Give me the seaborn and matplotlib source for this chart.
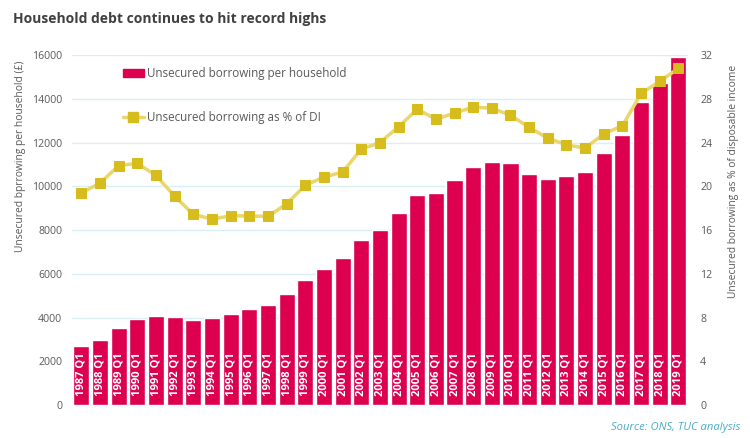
import numpy as np
import pandas as pd
import seaborn as sns
import matplotlib.pyplot as plt
from matplotlib.lines import Line2D
from matplotlib.patches import Patch

years = list(range(1987, 2020))
quarters = [f"{y} Q1" for y in years]
borrowing_per_household = [2680, 2990, 3500, 3915, 4070, 4010, 3870, 3990, 4160, 4400,
                           4590, 5090, 5700, 6215, 6705, 7570, 8020, 8765, 9600, 9680,
                           10270, 10865, 11095, 11065, 10545, 10320, 10455, 10650, 11505,
                           12345, 13850, 14735, 15895]
borrowing_pct_di = [19.4, 20.3, 21.9, 22.1, 21.0, 19.1, 17.45, 17.0, 17.3, 17.3,
                    17.25, 18.4, 20.1, 20.85, 21.3, 23.4, 24.0, 25.45, 27.05, 26.15,
                    26.7, 27.25, 27.15, 26.5, 25.4, 24.4, 23.8, 23.5, 24.8,
                    25.55, 28.5, 29.6, 30.8]

df = pd.DataFrame({"quarter": quarters,
                   "per_household": borrowing_per_household,
                   "pct_di": borrowing_pct_di})

BAR = "#dc004e"
LINE = "#ead66a"
MARK = "#d6bc1c"
GRID = "#d9eff3"
TXT = "#595959"

sns.set_style("white")
plt.rcParams['font.family'] = ['Open Sans', 'DejaVu Sans']

fig = plt.figure(figsize=(7.5, 4.38), dpi=100)
ax = fig.add_axes([0.096, 0.0753, 0.821, 0.7987])

sns.barplot(data=df, x="quarter", y="per_household", color=BAR, width=0.86,
            saturation=1, ax=ax, zorder=2)
ax.set_xlim(-0.5, len(quarters) - 0.5)
ax.set_ylim(0, 16000)
ax.set_yticks(np.arange(0, 16001, 2000))
ax.yaxis.grid(True, color=GRID, linewidth=1, zorder=0)
ax.set_axisbelow(True)
for s in ax.spines.values():
    s.set_visible(False)
ax.tick_params(axis="y", length=0, labelsize=7.6, labelcolor=TXT, pad=7)
ax.tick_params(axis="x", length=0, labelbottom=False)
ax.set_xlabel("")
ax.set_ylabel("Unsecured bprrowing per household (£)", fontsize=7.4, color=TXT, labelpad=9)
ax.yaxis.set_label_coords(-0.075, 0.71)

# year labels inside the bars
for i, q in enumerate(quarters):
    ax.text(i, 0.025, q, transform=ax.get_xaxis_transform(), rotation=90,
            ha="center", va="bottom", color="white", fontsize=8,
            fontweight="bold", zorder=3)

ax2 = ax.twinx()
sns.lineplot(data=df, x="quarter", y="pct_di", ax=ax2, color=LINE, linewidth=2.5,
             marker="s", markersize=7, markerfacecolor=MARK, markeredgecolor=MARK,
             sort=False)
ax2.set_ylim(0, 32)
ax2.set_yticks(np.arange(0, 33, 4))
for s in ax2.spines.values():
    s.set_visible(False)
ax2.tick_params(axis="y", length=0, labelsize=7.6, labelcolor=TXT, pad=9)
ax2.set_ylabel("Unsecured borrowing as % of disposable income", fontsize=7.4,
               color=TXT, labelpad=9)
ax2.yaxis.set_label_coords(1.065, 0.64)
ax2.grid(False)

handles = [Patch(facecolor=BAR, edgecolor=BAR),
           Line2D([0], [0], color=LINE, linewidth=2.5, marker="s", markersize=7,
                  markerfacecolor=MARK, markeredgecolor=MARK)]
ax2.legend(handles, ["Unsecured borrowing per household", "Unsecured borrowing as % of DI"],
           loc="upper left", bbox_to_anchor=(0.065, 0.995), frameon=False,
           fontsize=8.4, labelspacing=2.6, handlelength=1.8, handletextpad=0.3,
           labelcolor=TXT)

fig.text(0.018, 0.957, "Household debt continues to hit record highs", fontsize=10,
         fontweight="bold", color="#404040", ha="left", va="center")
fig.text(0.987, 0.025, "Source: ONS, TUC analysis", fontsize=8.1, style="italic",
         color="#4bacc6", ha="right", va="center")

fig.savefig("out.png", dpi=100)
